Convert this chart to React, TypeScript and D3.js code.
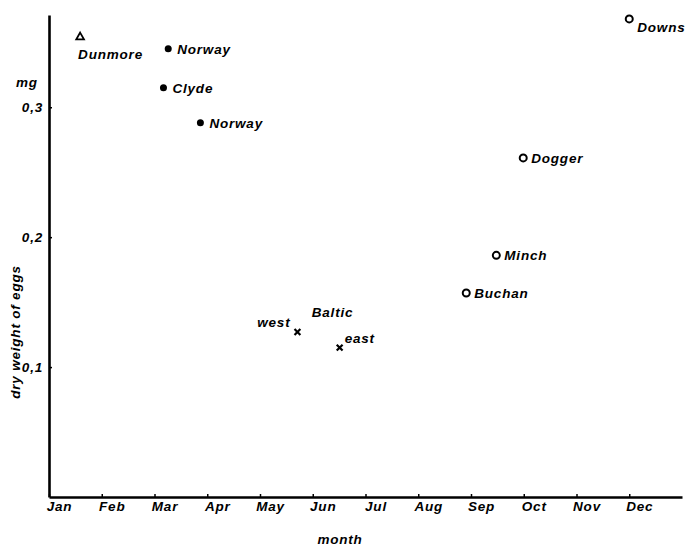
import React, { useEffect, useRef } from 'react'
import * as d3 from 'd3'

// month tick labels (Jan = 0)
const months = ['Jan', 'Feb', 'Mar', 'Apr', 'May', 'Jun', 'Jul', 'Aug', 'Sep', 'Oct', 'Nov', 'Dec']
const yTicks = [0.1, 0.2, 0.3]
const yTickLabels = ['0,1', '0,2', '0,3']

// spawning grounds
const sites = ['Dunmore', 'Norway', 'Clyde', 'Norway', 'west', 'east', 'Buchan', 'Minch', 'Dogger', 'Downs']
const siteMonth = [0.59, 2.26, 2.17, 2.87, 4.71, 5.51, 7.91, 8.48, 8.99, 11.0]
const siteWeight = [0.354, 0.345, 0.315, 0.288, 0.127, 0.115, 0.157, 0.186, 0.261, 0.368]
const siteGroup = ['triangle', 'dot', 'dot', 'dot', 'cross', 'cross', 'ring', 'ring', 'ring', 'ring']

const W = 685
const H = 546
const FONT = '"Liberation Sans", Arial, sans-serif'

export default function App() {
  const ref = useRef<SVGSVGElement>(null)

  useEffect(() => {
    const svg = d3.select(ref.current)
    svg.selectAll('*').remove()

    const x = d3.scaleLinear().domain([0, 12]).range([49, 682])
    const y = d3.scaleLinear().domain([0, 0.371]).range([497, 15])

    const txt = (s: any) =>
      s.attr('font-family', FONT).attr('font-weight', 'bold').attr('font-style', 'italic')
        .attr('font-size', 13.5).attr('letter-spacing', 0.8).attr('fill', '#000')

    // x axis
    const xAxis = d3.axisBottom(x)
      .tickValues(d3.range(12))
      .tickFormat((d: any) => months[d])
      .tickSizeInner(-3)
      .tickSizeOuter(0)
      .tickPadding(4)
    const gx = svg.append('g').attr('transform', `translate(0,${y(0)})`).call(xAxis)
    gx.select('.domain').attr('stroke', '#000').attr('stroke-width', 2.6)
    gx.selectAll('.tick line').attr('stroke', '#000').attr('stroke-width', 1.5)
    gx.selectAll('.tick text').attr('dx', 10).call(txt)

    // y axis
    const yAxis = d3.axisLeft(y)
      .tickValues(yTicks)
      .tickFormat((d: any, i: number) => yTickLabels[i])
      .tickSizeInner(-3)
      .tickSizeOuter(0)
      .tickPadding(6)
    const gy = svg.append('g').attr('transform', `translate(${x(0)},0)`).call(yAxis)
    gy.select('.domain').attr('stroke', '#000').attr('stroke-width', 2.6)
    gy.selectAll('.tick line').attr('stroke', '#000').attr('stroke-width', 1.5)
    gy.selectAll('.tick text').call(txt)

    // unit and axis titles
    svg.append('text').attr('x', 27).attr('y', 87).attr('text-anchor', 'middle').text('mg').call(txt)
    svg.append('text').attr('x', 340).attr('y', 544).attr('text-anchor', 'middle').text('month').call(txt)
    svg.append('text')
      .attr('transform', 'translate(20,332) rotate(-90)')
      .attr('text-anchor', 'middle')
      .text('dry weight of eggs')
      .call(txt)

    // markers
    const marks = svg.append('g')
    siteMonth.forEach((m, i) => {
      const cx = x(m)
      const cy = y(siteWeight[i])
      const g = siteGroup[i]
      if (g === 'dot') {
        marks.append('circle').attr('cx', cx).attr('cy', cy).attr('r', 3.5).attr('fill', '#000')
      } else if (g === 'ring') {
        marks.append('circle').attr('cx', cx).attr('cy', cy).attr('r', 3.5)
          .attr('fill', 'none').attr('stroke', '#000').attr('stroke-width', 2)
      } else if (g === 'triangle') {
        marks.append('path').attr('transform', `translate(${cx},${cy})`)
          .attr('d', d3.symbol(d3.symbolTriangle2, 42)())
          .attr('fill', 'none').attr('stroke', '#000').attr('stroke-width', 1.8)
      } else {
        marks.append('path').attr('transform', `translate(${cx},${cy})`)
          .attr('d', d3.symbol(d3.symbolX, 24)())
          .attr('fill', 'none').attr('stroke', '#000').attr('stroke-width', 2.2)
      }
    })

    // labels placed next to the markers
    const place: Record<string, [number, number, string]> = {
      triangle: [-2, 22, 'start'],
      dot: [9, 5, 'start'],
      ring: [8, 5, 'start'],
    }
    siteMonth.forEach((m, i) => {
      const cx = x(m)
      const cy = y(siteWeight[i])
      let [dx, dy, anchor] = place[siteGroup[i]] || [0, 0, 'start']
      if (sites[i] === 'Downs') { dx = 8; dy = 13 }
      if (sites[i] === 'west') { dx = -7; dy = -5; anchor = 'end' }
      if (sites[i] === 'east') { dx = 5; dy = -5 }
      svg.append('text').attr('x', cx + dx).attr('y', cy + dy).attr('text-anchor', anchor)
        .text(sites[i]).call(txt)
    })
    // group name for the two Baltic points
    const bx = (x(siteMonth[4]) + x(siteMonth[5])) / 2
    svg.append('text').attr('x', bx + 14).attr('y', y(siteWeight[4]) - 15)
      .attr('text-anchor', 'middle').text('Baltic').call(txt)
  }, [])

  return (
    <div style={{ position: 'absolute', left: 0, top: 0 }}>
      <svg ref={ref} width={W} height={H} style={{ display: 'block', background: '#fff' }} />
    </div>
  )
}
